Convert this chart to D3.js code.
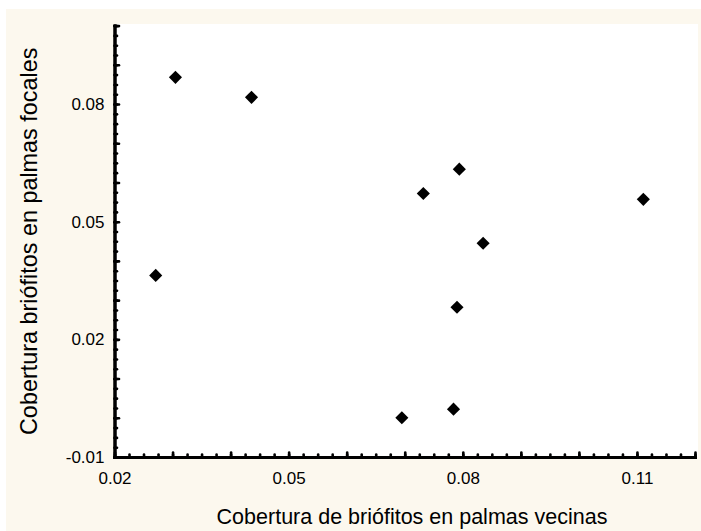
<!DOCTYPE html>
<html>
<head>
<meta charset="utf-8">
<script src="https://cdn.jsdelivr.net/npm/d3@7"></script>
<style>
  body { margin: 0; background: #ffffff; }
  svg { display: block; font-family: "Liberation Sans", Arial, sans-serif; }
  .axis path.domain { stroke: #000; stroke-width: 3; }
  .axis .tick line { stroke: #000; stroke-width: 2.6; stroke-linecap: round; }
  .axis text { font-size: 17px; fill: #000; font-family: "Liberation Sans", Arial, sans-serif; }
</style>
</head>
<body>
<svg id="chart" width="701" height="531"></svg>
<script>
// cobertura de briofitos: palmas vecinas (x) vs palmas focales (y)
let vecinas = [0.0305, 0.0436, 0.0271, 0.0732, 0.0794, 0.1111, 0.0835, 0.0790, 0.0695, 0.0784];
let focales = [0.0868, 0.0817, 0.0363, 0.0572, 0.0634, 0.0557, 0.0445, 0.0282, 0.0000, 0.0022];

let xDomain = [0.02, 0.12];
let yDomain = [-0.01, 0.10];
let xLabels = [0.02, 0.05, 0.08, 0.11];
let yLabels = [-0.01, 0.02, 0.05, 0.08];

let xTitle = "Cobertura de briófitos en palmas vecinas";
let yTitle = "Cobertura briófitos en palmas focales";

let svg = d3.select("#chart");

let margin = { top: 25.6, right: 6, bottom: 74, left: 114.5 };
let plotWidth = 701 - margin.left - margin.right;
let plotHeight = 531 - margin.top - margin.bottom;

let xScale = d3.scaleLinear().domain(xDomain).range([0, plotWidth]);
let yScale = d3.scaleLinear().domain(yDomain).range([plotHeight, 0]);

// background panel
svg.append("rect")
  .attr("x", 6).attr("y", 9)
  .attr("width", 701 - 6).attr("height", 531 - 9)
  .attr("fill", "#fcf8ee");

let plot = svg.append("g")
  .attr("id", "plot")
  .attr("transform", "translate(" + margin.left + "," + margin.top + ")");

// white plot area
plot.append("rect")
  .attr("x", 0).attr("y", -1.6)
  .attr("width", plotWidth + 3).attr("height", plotHeight + 1.6)
  .attr("fill", "#ffffff");

// tick positions
let range = function(a, b, step) {
  let out = [];
  for (let v = a; v <= b + step / 2; v += step) out.push(+v.toFixed(5));
  return out;
};
let xMinor = range(xDomain[0], xDomain[1], 0.0025);
let yMinor = range(yDomain[0], yDomain[1], 0.0025);
let xMajor = range(xDomain[0], xDomain[1], 0.01);
let yMajor = range(yDomain[0], yDomain[1], 0.01);

let hasLabel = function(list, v) {
  return list.some(function(l) { return Math.abs(l - v) < 1e-6; });
};
// plain hyphen for negatives, like the original
let fmt = function(d) { return d.toFixed(2); };

// minor ticks
plot.append("g").attr("class", "axis")
  .attr("transform", "translate(0," + plotHeight + ")")
  .call(d3.axisBottom(xScale).tickValues(xMinor).tickSize(-2.5).tickSizeOuter(0).tickFormat(""));
plot.append("g").attr("class", "axis")
  .call(d3.axisLeft(yScale).tickValues(yMinor).tickSize(-2.5).tickSizeOuter(0).tickFormat(""));

// major ticks with labels
let xAxis = d3.axisBottom(xScale)
  .tickValues(xMajor).tickSize(-4.5).tickSizeOuter(0).tickPadding(15)
  .tickFormat(function(d) { return hasLabel(xLabels, d) ? fmt(d) : ""; });
let yAxis = d3.axisLeft(yScale)
  .tickValues(yMajor).tickSize(-4.5).tickSizeOuter(0).tickPadding(10)
  .tickFormat(function(d) { return hasLabel(yLabels, d) ? fmt(d) : ""; });

plot.append("g").attr("class", "axis").attr("id", "x-axis")
  .attr("transform", "translate(0," + plotHeight + ")")
  .call(xAxis);
plot.append("g").attr("class", "axis").attr("id", "y-axis")
  .call(yAxis);

// close the corner
plot.selectAll(".axis path.domain").attr("stroke-linecap", "square");

// points
let diamond = d3.symbol().type(d3.symbolSquare).size(86);
plot.selectAll("path.point")
  .data(vecinas)
  .enter().append("path")
  .attr("class", "point")
  .attr("d", diamond)
  .attr("transform", function(d, i) {
    return "translate(" + xScale(vecinas[i]) + "," + yScale(focales[i]) + ") rotate(45)";
  })
  .attr("fill", "#000");

// axis titles
svg.append("text")
  .attr("x", 412)
  .attr("y", 524)
  .attr("text-anchor", "middle")
  .style("font-size", "21.5px")
  .attr("fill", "#000")
  .text(xTitle);

svg.append("text")
  .attr("transform", "translate(37," + (margin.top + yScale(0.045)) + ") rotate(-90)")
  .attr("text-anchor", "middle")
  .style("font-size", "23.4px")
  .attr("fill", "#000")
  .text(yTitle);
</script>
</body>
</html>
